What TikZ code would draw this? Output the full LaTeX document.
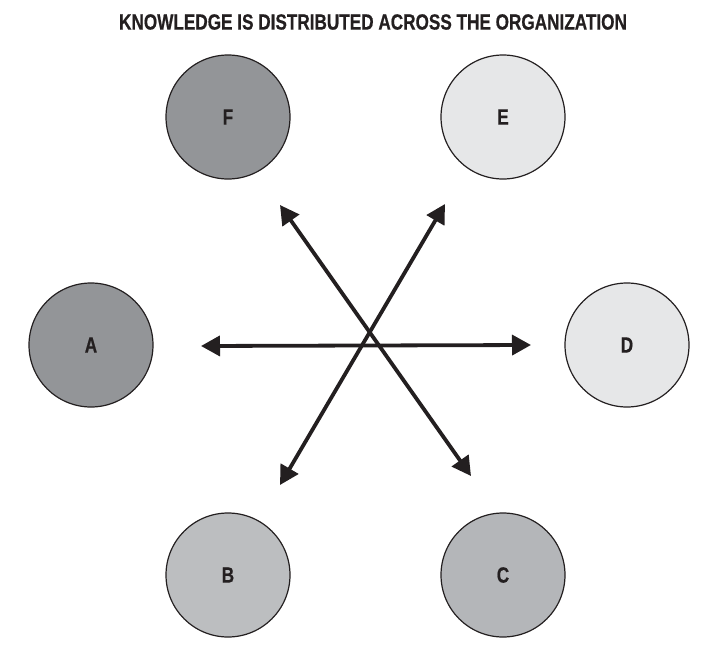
\documentclass[tikz,border=0pt]{standalone}
\usepackage{fontspec}
\setmainfont{Liberation Sans}
\newfontfamily\condfont[FakeStretch=0.78,FakeBold=0.6]{Liberation Sans Bold}
\usetikzlibrary{arrows.meta}
\definecolor{darkgrey}{HTML}{939598}
\definecolor{midgrey}{HTML}{BCBEC0}
\definecolor{midgreyb}{HTML}{B4B6B9}
\definecolor{lightgrey}{HTML}{E6E7E8}
\definecolor{inkblack}{HTML}{231F20}
\tikzset{
  member/.style={circle, draw=inkblack, line width=1.2pt, minimum size=124pt, inner sep=0pt,
    font=\condfont\fontsize{22}{22}\selectfont, text=inkblack},
  flow/.style={line width=3.8pt, draw=inkblack,
    {Triangle[length=19pt,width=20pt]}-{Triangle[length=19pt,width=20pt]}},
}
\begin{document}
\begin{tikzpicture}[x=1pt,y=-1pt]
  \useasboundingbox (0,0) rectangle (707,659);
  % title
  \node[font=\condfont\fontsize{22}{22}\selectfont, text=inkblack] (title) at (373,22)
    {KNOWLEDGE IS DISTRIBUTED ACROSS THE ORGANIZATION};
  % members of the organization
  \node[member, fill=darkgrey]  (F) at (228,117) {F};
  \node[member, fill=lightgrey] (E) at (503,117) {E};
  \node[member, fill=darkgrey]  (A) at (91,345)  {A};
  \node[member, fill=lightgrey] (D) at (627,345) {D};
  \node[member, fill=midgrey]   (B) at (228,575) {B};
  \node[member, fill=midgreyb]  (C) at (503,575) {C};
  % arrow ends
  \coordinate (hl) at (201,346);
  \coordinate (hr) at (531,345);
  \coordinate (bl) at (280,485);
  \coordinate (er) at (445,204);
  \coordinate (fl) at (280,205);
  \coordinate (cr) at (471,476);
  % exchange arrows
  \draw[flow] (hl) -- (hr);
  \draw[flow] (bl) -- (er);
  \draw[flow] (fl) -- (cr);
\end{tikzpicture}
\end{document}
